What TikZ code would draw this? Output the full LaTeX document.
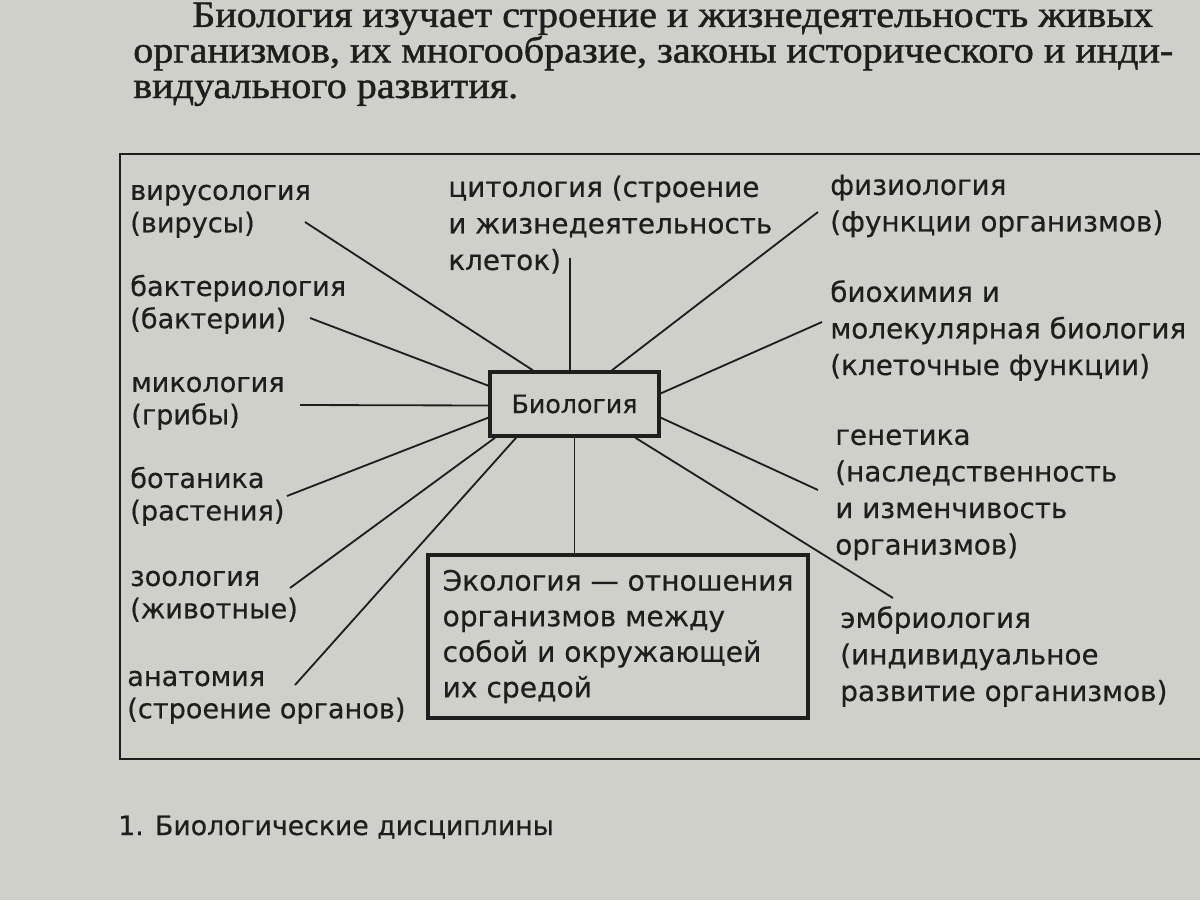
\documentclass[tikz,border=0pt]{standalone}
\usepackage{fontspec}
\setmainfont[FakeBold=1.2,FakeStretch=1.075]{Liberation Serif}
\newfontfamily\labfont[FakeBold=0.5]{DejaVu Sans}
\definecolor{paper}{RGB}{208,208,203}
\definecolor{ink}{RGB}{30,30,30}
\begin{document}
\begin{tikzpicture}[x=0.025cm,y=-0.025cm,
  lab/.style={anchor=north west,inner sep=0pt,align=left,text=ink,font=\labfont\fontsize{19.3}{23}\selectfont},
  labr/.style={lab,font=\labfont\fontsize{19.8}{26}\selectfont},
  para/.style={anchor=base west,inner sep=0pt,text=ink,font=\fontsize{26.5}{32}\selectfont},
  conn/.style={draw=ink,line width=1.3pt},
  boxed/.style={draw=ink,line width=2.4pt,text=ink}]
\useasboundingbox (0,0) rectangle (1200,900);
\fill[paper] (0,0) rectangle (1200,900);
\clip (0,0) rectangle (1200,900);

% paragraph above
\node[para] (p1) at (192,27) {Биология изучает строение и жизнедеятельность живых};
\node[para] (p2) at (133,62.5) {организмов, их многообразие, законы исторического и инди-};
\node[para] (p3) at (133,98) {видуального развития.};

% frame
\draw[ink,line width=1.4pt] (120,154) rectangle (1215,759);

% central boxes
\node[boxed,minimum width=4.225cm,minimum height=1.6cm,font=\labfont\fontsize{18}{23}\selectfont] (bio) at (574.5,404) {Биология};
\node[boxed,minimum width=9.5cm,minimum height=4.075cm,align=left,font=\labfont\fontsize{20}{25.3}\selectfont] (eco) at (618,636.5)
  {Экология — отношения\\организмов между\\собой и окружающей\\их средой};

% labels left
\node[lab] (vir) at (130,177) {\strut вирусология\\(вирусы)};
\node[lab] (bak) at (130,273) {\strut бактериология\\(бактерии)};
\node[lab] (mik) at (131,369) {\strut микология\\(грибы)};
\node[lab] (bot) at (130,465) {\strut ботаника\\(растения)};
\node[lab] (zoo) at (130,563) {\strut зоология\\(животные)};
\node[lab] (ana) at (127,663) {\strut анатомия\\(строение органов)};

% label top
\node[labr] (cyt) at (448,171) {\strut цитология (строение\\и жизнедеятельность\\клеток)};

% labels right
\node[labr] (fiz) at (830,169) {\strut физиология\\(функции организмов)};
\node[labr] (bio2) at (830,276) {\strut биохимия и\\молекулярная биология\\(клеточные функции)};
\node[labr] (gen) at (835,419) {\strut генетика\\(наследственность\\и изменчивость\\организмов)};
\node[labr] (emb) at (840,602) {\strut эмбриология\\(индивидуальное\\развитие организмов)};

% free ends of connectors
\coordinate (vE) at (305,222);
\coordinate (bE) at (310,318);
\coordinate (mE) at (300,405);
\coordinate (boE) at (287,496);
\coordinate (zE) at (290,588);
\coordinate (aE) at (295,685);
\coordinate (cE) at (570,258);
\coordinate (fE) at (818,212);
\coordinate (bhE) at (822,322);
\coordinate (gE) at (818,490);
\coordinate (eE) at (893,598);

% connectors
\draw[conn] (vE) -- (bio.141);
\draw[conn] (bE) -- (bio.168);
\draw[conn] (mE) -- (bio.181);
\draw[conn] (boE) -- (bio.189.4);
\draw[conn] (zE) -- (bio.203.2);
\draw[conn] (aE) -- (bio.210.4);
\draw[conn] (cE) -- (cE |- bio.north);
\draw[conn] (fE) -- (bio.42);
\draw[conn] (bhE) -- (bio.7.4);
\draw[conn] (gE) -- (bio.-9.4);
\draw[conn] (eE) -- (bio.-29.1);
\draw[conn] (bio.south) -- (bio.south |- eco.north);

% caption
\node[anchor=base west,inner sep=0pt,text=ink,font=\labfont\fontsize{19}{22}\selectfont] (cap) at (118,835) {1. Биологические дисциплины};
\end{tikzpicture}
\end{document}
